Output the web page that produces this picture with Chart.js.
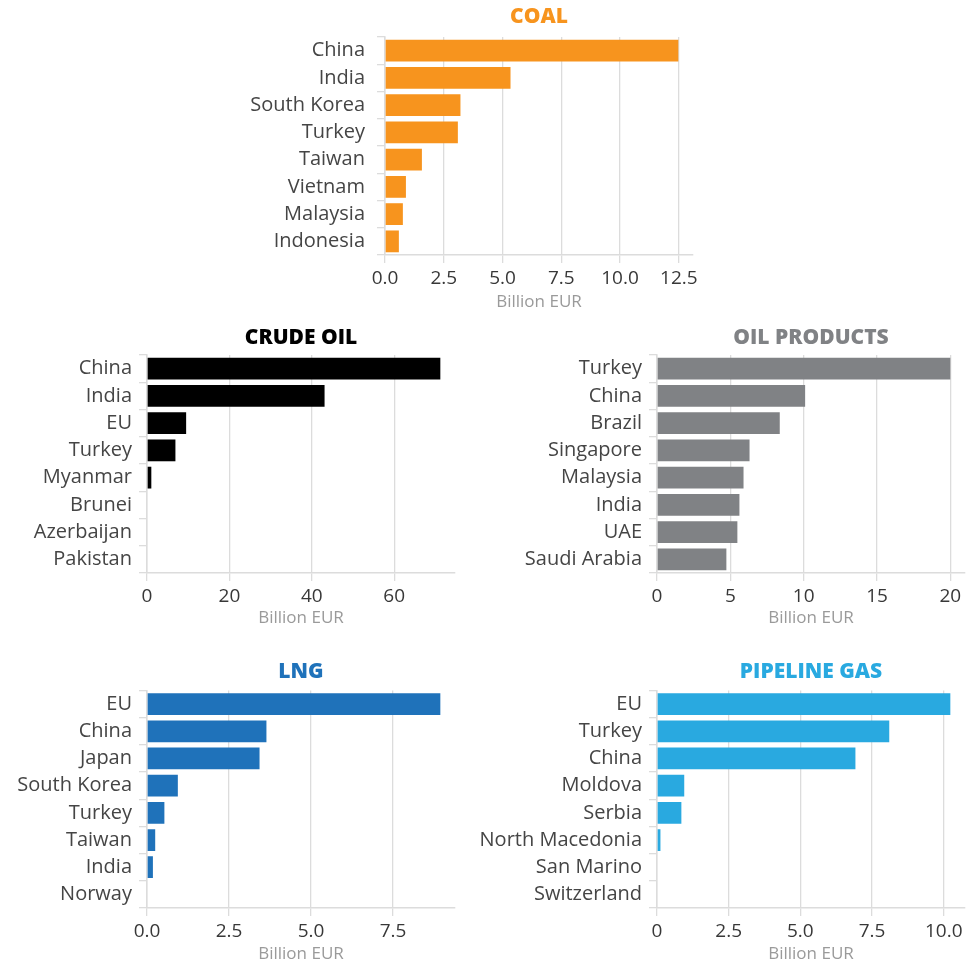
<!DOCTYPE html>
<html>
<head>
<meta charset="utf-8">
<script src="https://cdn.jsdelivr.net/npm/chart.js@4.4.1/dist/chart.umd.min.js"></script>
<style>
  html, body { margin: 0; padding: 0; background: #fff; }
  body { width: 967px; height: 966px; position: relative; overflow: hidden; }
  .box { position: absolute; }
</style>
</head>
<body>
<div class="box" id="b0" style="left:230px;top:0px;width:490px;height:312px;"><canvas id="c0"></canvas></div>
<div class="box" id="b1" style="left:0px;top:320px;width:480px;height:308px;"><canvas id="c1"></canvas></div>
<div class="box" id="b2" style="left:480px;top:320px;width:487px;height:308px;"><canvas id="c2"></canvas></div>
<div class="box" id="b3" style="left:0px;top:650px;width:480px;height:314px;"><canvas id="c3"></canvas></div>
<div class="box" id="b4" style="left:480px;top:650px;width:487px;height:314px;"><canvas id="c4"></canvas></div>
<script>
// ---- data ----
const coalCountries = ['China', 'India', 'South Korea', 'Turkey', 'Taiwan', 'Vietnam', 'Malaysia', 'Indonesia'];
const coalValues = [12.48, 5.34, 3.21, 3.10, 1.57, 0.89, 0.76, 0.59];
const coalTicks = [0, 2.5, 5, 7.5, 10, 12.5];
const coalTickLabels = ['0.0', '2.5', '5.0', '7.5', '10.0', '12.5'];

const crudeCountries = ['China', 'India', 'EU', 'Turkey', 'Myanmar', 'Brunei', 'Azerbaijan', 'Pakistan'];
const crudeValues = [71.2, 43.1, 9.5, 6.9, 1.05, 0, 0, 0];
const crudeTicks = [0, 20, 40, 60];
const crudeTickLabels = ['0', '20', '40', '60'];

const oilCountries = ['Turkey', 'China', 'Brazil', 'Singapore', 'Malaysia', 'India', 'UAE', 'Saudi Arabia'];
const oilValues = [20.0, 10.1, 8.37, 6.31, 5.9, 5.62, 5.48, 4.73];
const oilTicks = [0, 5, 10, 15, 20];
const oilTickLabels = ['0', '5', '10', '15', '20'];

const lngCountries = ['EU', 'China', 'Japan', 'South Korea', 'Turkey', 'Taiwan', 'India', 'Norway'];
const lngValues = [8.94, 3.64, 3.43, 0.94, 0.53, 0.25, 0.18, 0];
const lngTicks = [0, 2.5, 5, 7.5];
const lngTickLabels = ['0.0', '2.5', '5.0', '7.5'];

const pipeCountries = ['EU', 'Turkey', 'China', 'Moldova', 'Serbia', 'North Macedonia', 'San Marino', 'Switzerland'];
const pipeValues = [10.23, 8.1, 6.92, 0.95, 0.85, 0.12, 0, 0];
const pipeTicks = [0, 2.5, 5, 7.5, 10];
const pipeTickLabels = ['0', '2.5', '5.0', '7.5', '10.0'];

const axisTitle = 'Billion EUR';

// ---- styles ----
const FONT = "'Open Sans', 'DejaVu Sans', sans-serif";
const GRID = '#dcdcdc';
const LABEL = '#454545';

const titlePlugin = {
  id: 'panelTitle',
  afterDraw(chart, args, opts) {
    const ctx = chart.ctx;
    const a = chart.chartArea;
    ctx.save();
    ctx.font = '800 21px ' + FONT;
    ctx.fillStyle = opts.color;
    ctx.textAlign = 'center';
    ctx.textBaseline = 'middle';
    ctx.fillText(opts.text, (a.left + a.right) / 2, opts.y);
    ctx.restore();
  }
};

function makeChart(id, cfg) {
  const maxVal = Math.max(...cfg.values) * 1.05;
  return new Chart(document.getElementById(id), {
    type: 'bar',
    data: {
      labels: cfg.labels,
      datasets: [{
        data: cfg.values,
        backgroundColor: cfg.color,
        borderWidth: 0,
        inflateAmount: 0,
        categoryPercentage: 0.8,
        barPercentage: 1.0
      }]
    },
    plugins: [titlePlugin],
    options: {
      indexAxis: 'y',
      responsive: true,
      maintainAspectRatio: false,
      animation: false,
      devicePixelRatio: 1,
      layout: { padding: { top: cfg.padTop, right: cfg.padRight, bottom: 0, left: 0 } },
      plugins: {
        legend: { display: false },
        tooltip: { enabled: false },
        panelTitle: { text: cfg.title, color: cfg.color, y: cfg.titleY }
      },
      scales: {
        x: {
          type: 'linear',
          min: 0,
          max: maxVal,
          afterBuildTicks: (axis) => { axis.ticks = cfg.ticks.map(v => ({ value: v })); },
          afterFit: (scale) => { scale.height = cfg.xHeight; },
          grid: { color: GRID, lineWidth: 1.3, tickLength: 8, drawTicks: true },
          border: { display: true, color: GRID, width: 1.5 },
          ticks: {
            callback: (v, i) => cfg.tickLabels[i],
            color: '#383838',
            font: { family: FONT, size: 19, weight: '500' },
            padding: 4,
            maxRotation: 0,
            autoSkip: false
          },
          title: {
            display: true,
            text: axisTitle,
            color: '#9a9a9a',
            font: { family: FONT, size: 17 },
            padding: { top: 0, bottom: 0 }
          }
        },
        y: {
          type: 'category',
          offset: true,
          afterFit: (scale) => { scale.width = cfg.yWidth; },
          grid: { drawOnChartArea: false, drawTicks: true, tickLength: 8, color: GRID, lineWidth: 1.3 },
          border: { display: true, color: GRID, width: 1.5 },
          ticks: {
            color: LABEL,
            font: { family: FONT, size: 20, weight: '500' },
            padding: cfg.yPad,
            autoSkip: false
          }
        }
      }
    }
  });
}

makeChart('c0', { labels: coalCountries, values: coalValues, ticks: coalTicks, tickLabels: coalTickLabels,
  title: 'COAL', color: '#F7941E', titleY: 17.5, padTop: 37, padRight: 27, yWidth: 155, xHeight: 57, yPad: 12 });
makeChart('c1', { labels: crudeCountries, values: crudeValues, ticks: crudeTicks, tickLabels: crudeTickLabels,
  title: 'CRUDE OIL', color: '#000000', titleY: 18.3, padTop: 35, padRight: 25, yWidth: 147, xHeight: 55, yPad: 7 });
makeChart('c2', { labels: oilCountries, values: oilValues, ticks: oilTicks, tickLabels: oilTickLabels,
  title: 'OIL PRODUCTS', color: '#808285', titleY: 18.3, padTop: 35, padRight: 2, yWidth: 177, xHeight: 55, yPad: 7 });
makeChart('c3', { labels: lngCountries, values: lngValues, ticks: lngTicks, tickLabels: lngTickLabels,
  title: 'LNG', color: '#1F72BA', titleY: 21.7, padTop: 40.5, padRight: 25, yWidth: 147, xHeight: 56, yPad: 7 });
makeChart('c4', { labels: pipeCountries, values: pipeValues, ticks: pipeTicks, tickLabels: pipeTickLabels,
  title: 'PIPELINE GAS', color: '#29A9E0', titleY: 21.7, padTop: 40.5, padRight: 2, yWidth: 177, xHeight: 56, yPad: 7 });
</script>
</body>
</html>
